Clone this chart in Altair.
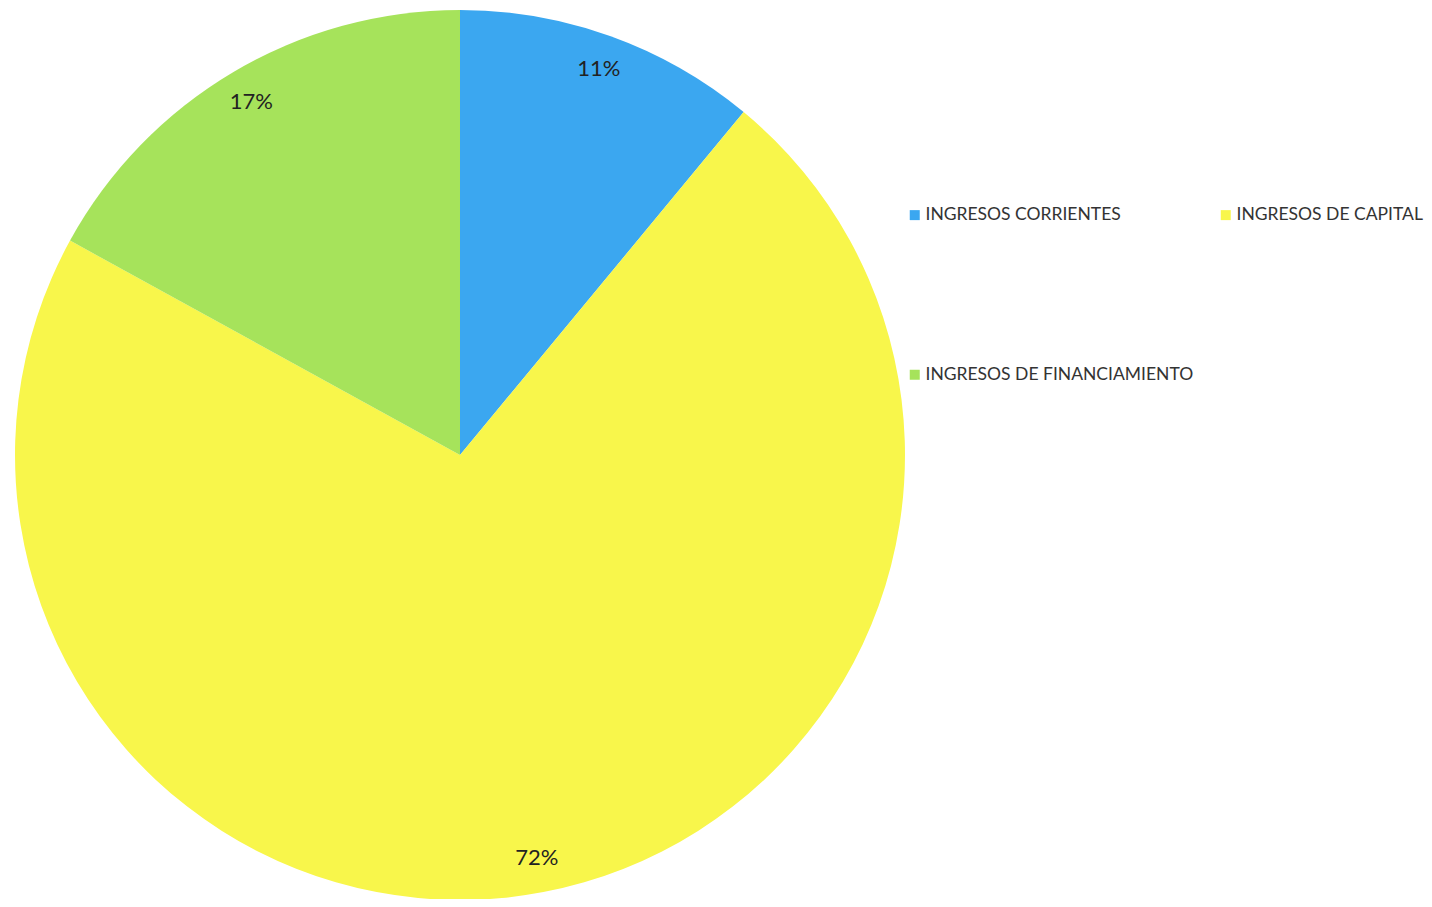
import altair as alt
import pandas as pd

categories = ["INGRESOS CORRIENTES", "INGRESOS DE CAPITAL", "INGRESOS DE FINANCIAMIENTO"]
values = [11, 72, 17]
labels = ["11%", "72%", "17%"]
order = [1, 2, 3]
colors = ["#3ba7f0", "#f8f64b", "#a6e35b"]

# legend is filled column by column: first column CORRIENTES / FINANCIAMIENTO, second CAPITAL
legend_domain = ["INGRESOS CORRIENTES", "INGRESOS DE FINANCIAMIENTO", "INGRESOS DE CAPITAL"]
legend_range = ["#3ba7f0", "#a6e35b", "#f8f64b"]

df = pd.DataFrame({"cat": categories, "val": values, "label": labels, "ord": order})

base = alt.Chart(df).encode(
    theta=alt.Theta("val:Q", stack=True),
    order=alt.Order("ord:Q"),
)

pie = base.mark_arc(radius=445, stroke=None, x=452, y=447).encode(
    color=alt.Color(
        "cat:N",
        scale=alt.Scale(domain=legend_domain, range=legend_range),
        sort=legend_domain,
        legend=alt.Legend(
            title=None,
            orient="none",
            legendX=898,
            legendY=198,
            columns=2,
            gridAlign="each",
            columnPadding=23,
            rowPadding=141,
            symbolType="square",
            symbolSize=100,
            symbolStrokeWidth=0,
            labelFont="Lato",
            labelFontSize=17.5,
            labelColor="#333333",
            labelOffset=2,
            labelLimit=400,
            padding=0,
        ),
    )
)

text = base.mark_text(radius=410, x=452, y=447, font="Lato", fontSize=22, color="#222222").encode(
    text="label:N"
)

chart = (
    (pie + text)
    .properties(width=1416, height=891, padding=0, autosize=alt.AutoSizeParams(type="none"))
    .configure_view(stroke=None)
    .configure(background="white")
)

chart.save("out.html", embed_options={"renderer": "svg", "actions": False})
